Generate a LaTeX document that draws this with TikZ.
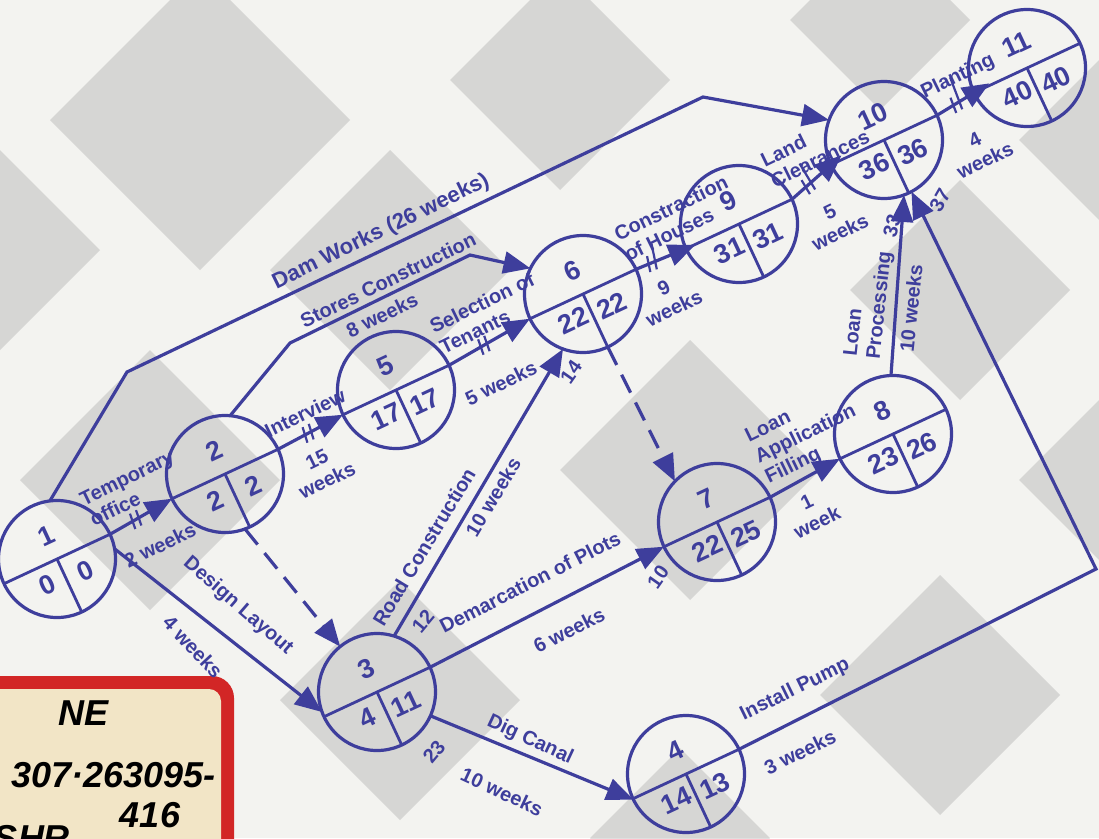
\documentclass[tikz,border=0pt]{standalone}
\usepackage{fontspec}
\setmainfont{Liberation Sans}
\usetikzlibrary{arrows.meta,decorations.markings,calc}
\definecolor{ink}{RGB}{62,62,156}
\definecolor{paper}{RGB}{243,243,240}
\definecolor{shade}{RGB}{150,150,150}
\definecolor{tagred}{RGB}{210,38,38}
\definecolor{tagcream}{RGB}{242,229,198}
\tikzset{
  event/.style={circle,draw=ink,line width=3.2pt,minimum size=117pt,inner sep=0pt,outer sep=0pt},
  divider/.style={draw=ink,line width=2.8pt},
  num/.style={text=ink,font=\bfseries\fontsize{27}{27}\selectfont,rotate=25,inner sep=0pt},
  lbl/.style={text=ink,font=\bfseries\fontsize{20}{23}\selectfont,inner sep=0pt},
  lblr/.style={lbl,rotate=26},
  act/.style={draw=ink,line width=3.2pt,-{Triangle[length=27pt,width=22pt]}},
  dummy/.style={act,dash pattern=on 20pt off 11pt},
  crit/.style={postaction={decorate},decoration={markings,mark=at position #1 with {\draw[ink,line width=2.2pt,solid,-] (-4pt,-8pt)--(-1pt,8pt) (3pt,-8pt)--(6pt,8pt);}}},
  bg/.style={fill=shade,opacity=0.3},
  hand/.style={text=black,font=\bfseries\itshape\fontsize{36}{36}\selectfont,inner sep=0pt},
}
\newcommand\eventnode[6]{%
  \node[event] (#1) at (#2,#3) {};
  \draw[divider] (#1.205) -- (#1.25);
  \draw[divider] (#1.center) -- (#1.-65);
  \node[num] at ($(#1.center)+(115:26pt)$) {#4};
  \node[num] at ($(#1.center)+(250:28pt)$) {#5};
  \node[num] at ($(#1.center)+(-22:31pt)$) {#6};
}
\newcommand\gdiam[3]{\fill[bg] (#1-#3,#2) -- (#1,#2+#3) -- (#1+#3,#2) -- (#1,#2-#3) -- cycle;}
\begin{document}
\begin{tikzpicture}[x=1pt,y=1pt]
\useasboundingbox (0,0) rectangle (1099,-838);
\clip (0,0) rectangle (1099,-838);
\fill[paper] (0,0) rectangle (1099,-838);
% background pattern
\gdiam{200}{-120}{150}
\gdiam{560}{-80}{110}
\gdiam{390}{-270}{120}
\gdiam{150}{-480}{130}
\gdiam{690}{-470}{130}
\gdiam{960}{-290}{110}
\gdiam{940}{-695}{120}
\gdiam{400}{-700}{120}
\gdiam{880}{-20}{90}
\gdiam{1099}{-140}{80}
\gdiam{680}{-838}{90}
\gdiam{1099}{-480}{80}
\gdiam{0}{-250}{100}
% library tag
\fill[tagred,rounded corners=22pt] (-40,-676) rectangle (234,-880);
\fill[tagcream,rounded corners=12pt] (-40,-689) rectangle (221,-880);
\node[hand] (tagA) at (84,-713) {NE};
\node[hand,anchor=east] (tagB) at (216,-775) {307·263095-};
\node[hand] (tagC) at (150,-815) {416};
\node[hand] (tagD) at (32,-838) {SHR};
% events
\eventnode{n1}{57}{-559}{1}{0}{0}
\eventnode{n2}{225}{-474}{2}{2}{2}
\eventnode{n5}{396}{-390}{5}{17}{17}
\eventnode{n6}{583}{-294}{6}{22}{22}
\eventnode{n9}{739}{-224}{9}{31}{31}
\eventnode{n10}{884}{-140}{10}{36}{36}
\eventnode{n11}{1027}{-68}{11}{40}{40}
\eventnode{n7}{717}{-522}{7}{22}{25}
\eventnode{n8}{893}{-434}{8}{23}{26}
\eventnode{n3}{377}{-692}{3}{4}{11}
\eventnode{n4}{686}{-774}{4}{14}{13}
% bend points
\coordinate (c1) at (127,-372);
\coordinate (c2) at (703,-97);
\coordinate (c3) at (290,-343);
\coordinate (c4) at (470,-255);
\coordinate (c5) at (1096,-569);
% activities
\draw[act,crit=0.4] (n1.25) -- (n2.205);
\draw[act,crit=0.45] (n2.25) -- (n5.205);
\draw[act,crit=0.42] (n5.25) -- (n6.205);
\draw[act,crit=0.3,shorten >=-10pt] (n6.25) -- (n9.205);
\draw[act,crit=0.4,shorten >=-14pt] (n9.25) -- (n10.205);
\draw[act,crit=0.5,shorten >=-18pt] (n10.25) -- (n11.205);
\draw[dummy] (n2.-70) -- (n3.129);
\draw[dummy] (n6.-65) -- (n7.136);
\draw[act] (n1.10) -- (n3.200);
\draw[act] (n3.73) -- (n6.250);
\draw[act] (n3.25) -- (n7.205);
\draw[act] (n3.-24) -- (n4.206);
\draw[act] (n7.25) -- (n8.205);
\draw[act] (n8.92) -- (n10.-70);
\draw[act] (n4.25) -- (c5) -- (n10.-62);
\draw[act] (n1.97) -- (c1) -- (c2) -- (n10.160);
\draw[act] (n2.85) -- (c3) -- (c4) -- (n6.154);
% labels
\node[lblr,align=left] (l1) at (132,-488) {Temporary\\office};
\node[lblr] (l2) at (160,-545) {2 weeks};
\node[lblr] (l3) at (305,-413) {Interview};
\node[lblr,align=center] (l4) at (322,-470) {15\\weeks};
\node[lblr] (l5) at (388,-280) {Stores Construction};
\node[lblr] (l6) at (382,-315) {8 weeks};
\node[lblr,font=\bfseries\fontsize{22}{24}\selectfont] (l7) at (381,-232) {Dam Works (26 weeks)};
\node[lblr,align=left] (l8) at (487,-313) {Selection of\\Tenants};
\node[lblr] (l9) at (501,-383) {5 weeks};
\node[lblr,align=left] (l10) at (676,-218) {Constraction\\of Houses};
\node[lblr,align=center] (l11) at (669,-298) {9\\weeks};
\node[lblr,align=left] (l12) at (815,-148) {Land\\Clearances};
\node[lblr,align=center] (l13) at (835,-222) {5\\weeks};
\node[lblr] (l14) at (958,-77) {Planting};
\node[lblr,align=center] (l15) at (980,-150) {4\\weeks};
\node[lblr,align=left] (l16) at (806,-435) {Loan\\Application\\Filling};
\node[lblr,align=center] (l17) at (812,-512) {1\\week};
\node[lbl,align=left,rotate=84] (l18) at (869,-304) {Loan\\Processing};
\node[lbl,rotate=84] (l19) at (911,-308) {10 weeks};
\node[lbl,rotate=75] (l20) at (892,-226) {33};
\node[lbl,rotate=60] (l21) at (940,-200) {37};
\node[lbl,rotate=59] (l22) at (424,-547) {Road Construction};
\node[lbl,rotate=59] (l23) at (493,-497) {10 weeks};
\node[lbl,rotate=50] (l24) at (423,-621) {12};
\node[lbl,rotate=55] (l25) at (571,-372) {14};
\node[lbl,rotate=27] (l26) at (530,-582) {Demarcation of Plots};
\node[lbl,rotate=27] (l27) at (569,-630) {6 weeks};
\node[lbl,rotate=55] (l28) at (658,-577) {10};
\node[lbl,rotate=-41] (l29) at (238,-606) {Design Layout};
\node[lbl,rotate=-47] (l30) at (193,-647) {4 weeks};
\node[lbl,rotate=-25] (l31) at (530,-740) {Dig Canal};
\node[lbl,rotate=-25] (l32) at (502,-792) {10 weeks};
\node[lbl,rotate=50] (l33) at (434,-752) {23};
\node[lblr] (l34) at (795,-690) {Install Pump};
\node[lblr] (l35) at (800,-752) {3 weeks};
\end{tikzpicture}
\end{document}
